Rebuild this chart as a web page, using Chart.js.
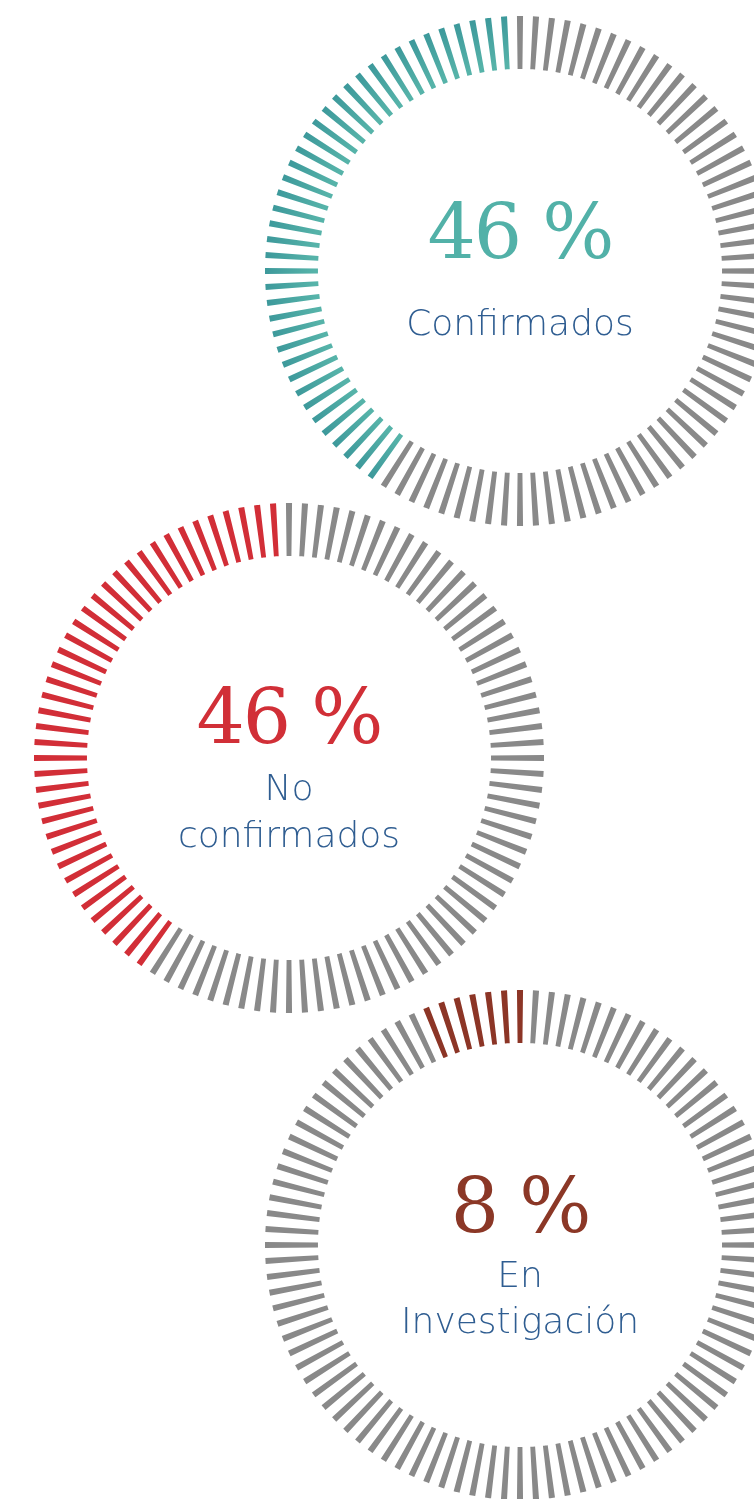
<!DOCTYPE html>
<html>
<head>
<meta charset="utf-8">
<script src="https://cdn.jsdelivr.net/npm/chart.js@4/dist/chart.umd.min.js"></script>
<style>
  html, body { margin: 0; padding: 0; width: 754px; height: 1499px; overflow: hidden; background: #fff; }
  .gauge { position: absolute; width: 520px; height: 520px; }
  .gauge canvas { display: block; }
  .txt { position: absolute; width: 400px; text-align: center; white-space: nowrap; }
  .num { font-family: "DejaVu Serif", serif; letter-spacing: -2px; }
  .lbl { font-family: "DejaVu Sans", sans-serif; font-weight: 200; color: #2f5d91; }
</style>
</head>
<body>
<script>
// ---- data ----
const categories = ['Confirmados', 'No confirmados', 'En Investigación'];
const percentages = [46, 46, 8];
const labelLines = [['Confirmados'], ['No', 'confirmados'], ['En', 'Investigación']];
const TICK_COUNT = 100;            // ticks around each ring
const filledTicks = [40, 40, 7];   // coloured ticks counted on each ring
const firstFilledTick = [1, 1, 0]; // counter-clockwise index of first coloured tick (0 = top)

// ---- styling ----
const fillColors = ['#4aa9a4', '#d22e37', '#8c3526'];
const textColors = ['#52b1a8', '#d12f37', '#8b3726'];
const tickGray = '#898989';
const TICK_SHARE = 0.38, GAP_SHARE = 0.62;
const OUTER_R = 255, INNER_R = 206;
const centers = [[520, 271], [289, 758], [520, 1245]];
const numBaselines = [258, 743, 1232];
const lblBaselines = [[335], [800, 847], [1287, 1333]];
const NUM_FS = 76, LBL_FS = 36;

function buildRing(i) {
  const data = [], colors = [];
  for (let j = 0; j < TICK_COUNT; j++) {
    const k = (TICK_COUNT - j) % TICK_COUNT;
    const filled = k >= firstFilledTick[i] && k < firstFilledTick[i] + filledTicks[i];
    data.push(TICK_SHARE, GAP_SHARE);
    colors.push(filled ? 'fill' : tickGray, 'rgba(0,0,0,0)');
  }
  return { data, colors };
}

categories.forEach((cat, i) => {
  const [cx, cy] = centers[i];
  const box = document.createElement('div');
  box.className = 'gauge';
  box.style.left = (cx - 260) + 'px';
  box.style.top = (cy - 260) + 'px';
  const cv = document.createElement('canvas');
  cv.width = 520; cv.height = 520;
  box.appendChild(cv);
  document.body.appendChild(box);

  const ring = buildRing(i);
  new Chart(cv, {
    type: 'doughnut',
    data: {
      labels: ring.data.map(() => cat),
      datasets: [{
        data: ring.data,
        borderWidth: 0,
        backgroundColor: (ctx) => {
          const c = ring.colors[ctx.dataIndex];
          if (c !== 'fill') return c;
          if (i !== 0) return fillColors[i];
          const a = ctx.chart.chartArea;
          if (!a) return fillColors[i];
          const x = (a.left + a.right) / 2, y = (a.top + a.bottom) / 2;
          const g = ctx.chart.ctx.createRadialGradient(x, y, INNER_R, x, y, OUTER_R);
          g.addColorStop(0, '#56b3a9');
          g.addColorStop(1, '#3d999b');
          return g;
        }
      }]
    },
    options: {
      responsive: false,
      maintainAspectRatio: false,
      animation: false,
      events: [],
      radius: OUTER_R,
      cutout: INNER_R,
      rotation: -(TICK_SHARE / (TICK_SHARE + GAP_SHARE)) * 180 / TICK_COUNT,
      layout: { padding: 0 },
      plugins: { legend: { display: false }, tooltip: { enabled: false } }
    }
  });

  // centre texts (baseline placement: DejaVu ascent 0.928, descent 0.236)
  const place = (text, cls, fs, baseline, color) => {
    const d = document.createElement('div');
    d.className = 'txt ' + cls;
    d.textContent = text;
    d.style.fontSize = fs + 'px';
    d.style.lineHeight = fs + 'px';
    d.style.left = (cx - 200) + 'px';
    d.style.top = (baseline - 0.846 * fs) + 'px';
    if (color) d.style.color = color;
    document.body.appendChild(d);
  };
  place(percentages[i] + ' %', 'num', NUM_FS, numBaselines[i], textColors[i]);
  labelLines[i].forEach((line, n) => place(line, 'lbl', LBL_FS, lblBaselines[i][n]));
});
</script>
</body>
</html>
